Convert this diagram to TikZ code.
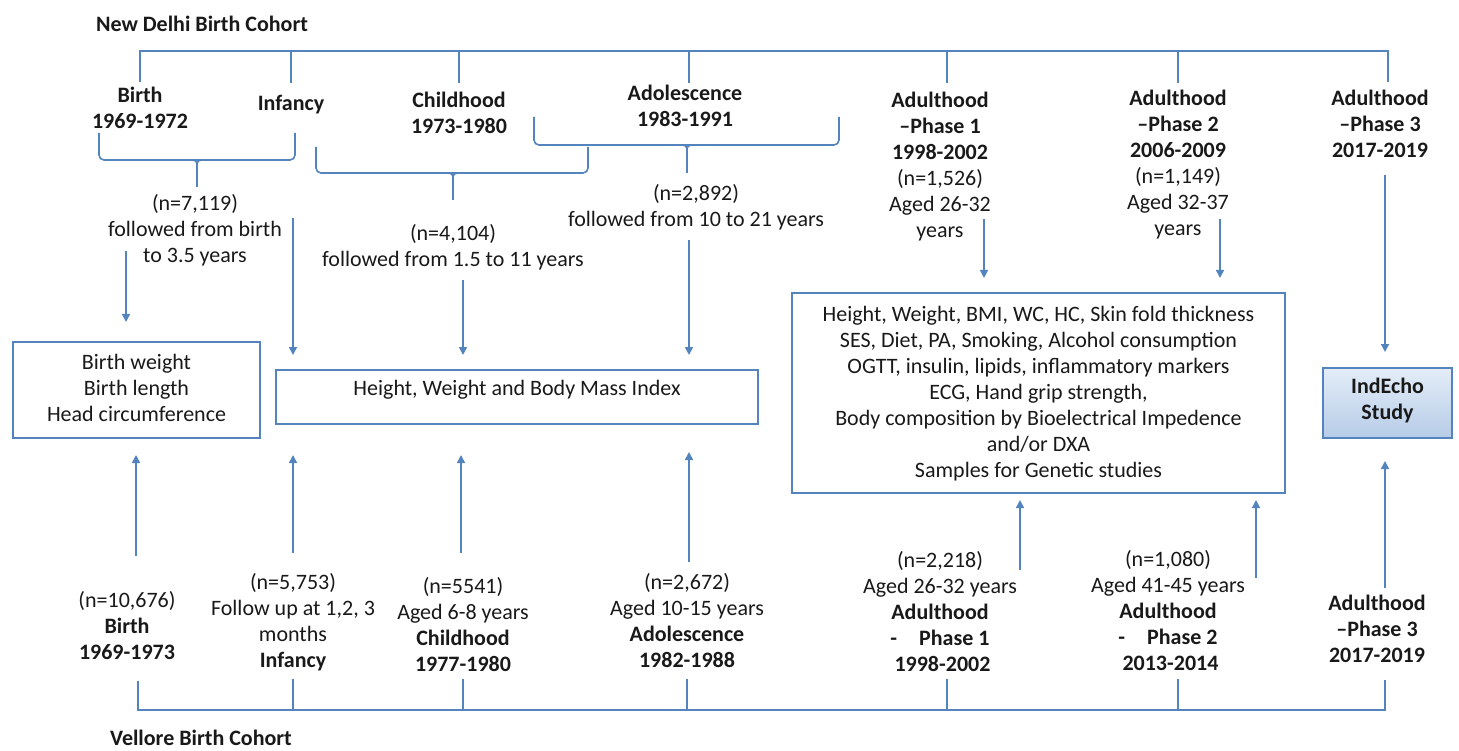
\documentclass[tikz,border=0pt]{standalone}
\usepackage{fontspec}
\setmainfont{Carlito}
\usetikzlibrary{arrows.meta}
\definecolor{lc}{RGB}{84,132,190}
\definecolor{tc}{RGB}{25,25,25}
\definecolor{fillA}{RGB}{228,237,248}
\definecolor{fillB}{RGB}{182,204,231}
\begin{document}
\begin{tikzpicture}[x=1pt,y=-1pt,
  ln/.style={draw=lc,line width=1.6pt},
  arr/.style={draw=lc,line width=1.6pt,-{Triangle[length=8pt,width=8pt]}},
  txt/.style={align=center,inner sep=0pt,text=tc,font=\fontsize{22}{26}\selectfont},
  btxt/.style={txt,font=\bfseries\fontsize{22}{26}\selectfont},
  bx/.style={draw=lc,line width=1.6pt,inner sep=0pt},
  brace/.style={draw=lc,line width=1.6pt,rounded corners=5pt}]
\useasboundingbox (0,0) rectangle (1459,751);

% titles
\node[btxt] (ndtitle) at (202,24) {New Delhi Birth Cohort};
\node[btxt] (vtitle) at (201,738) {Vellore Birth Cohort};

% top tree
\coordinate (tl) at (140,51);
\coordinate (tr) at (1388,51);
\draw[ln] (140,82) -- (tl) -- (tr) -- (1388,82);
\foreach \x in {291,459,689,947,1178} \draw[ln] (\x,51) -- (\x,83);

% top labels
\node[btxt] (t1) at (140,108) {Birth\\1969-1972};
\node[btxt] (t2) at (291,105) {Infancy};
\node[btxt] (t3) at (459,113) {Childhood\\1973-1980};
\node[btxt] (t4) at (685,106) {Adolescence\\1983-1991};
\node[txt] (t5) at (940,167) {\textbf{Adulthood}\\\textbf{–Phase 1}\\\textbf{1998-2002}\\(n=1,526)\\Aged 26-32\\years};
\node[txt] (t6) at (1178,165) {\textbf{Adulthood}\\\textbf{–Phase 2}\\\textbf{2006-2009}\\(n=1,149)\\Aged 32-37\\years};
\node[btxt] (t7) at (1380,124) {Adulthood\\–Phase 3\\2017-2019};

% braces
\draw[brace] (99,133) -- (99,160) -- (295,160) -- (295,133);
\draw[ln] (187,160) .. controls (197,160) .. (197,168) -- (197,187);
\draw[ln] (207,160) .. controls (197,160) .. (197,168);
\draw[brace] (316,147) -- (316,173) -- (588,173) -- (588,147);
\draw[ln] (443,173) .. controls (453,173) .. (453,181) -- (453,200);
\draw[ln] (463,173) .. controls (453,173) .. (453,181);
\draw[brace] (534,117) -- (534,145) -- (839,145) -- (839,117);
\draw[ln] (677,145) .. controls (687,145) .. (687,153) -- (687,173);
\draw[ln] (697,145) .. controls (687,145) .. (687,153);

% follow-up texts
\node[txt] (f1) at (195,230) {(n=7,119)\\followed from birth\\to 3.5 years};
\node[txt] (f2) at (453,247) {(n=4,104)\\followed from 1.5 to 11 years};
\node[txt] (f3) at (696,207) {(n=2,892)\\followed from 10 to 21 years};

% boxes
\node[bx,minimum width=247pt,minimum height=96pt] (box1) at (136.5,390) {};
\node[txt] (box1t) at (136.5,388) {Birth weight\\Birth length\\Head circumference};
\node[bx,minimum width=482pt,minimum height=54pt] (box2) at (517,397) {};
\node[txt] (box2t) at (517,390) {Height, Weight and Body Mass Index};
\node[bx,minimum width=493pt,minimum height=200pt] (box3) at (1038.5,393) {};
\node[txt] (box3t) at (1038.5,394) {Height, Weight, BMI, WC, HC, Skin fold thickness\\SES, Diet, PA, Smoking, Alcohol consumption\\OGTT, insulin, lipids, inflammatory markers\\ECG, Hand grip strength,\\Body composition by Bioelectrical Impedence\\and/or DXA\\Samples for Genetic studies};
\node[bx,minimum width=129pt,minimum height=70pt,top color=fillA,bottom color=fillB] (box4) at (1387.5,403) {};
\node[btxt] (box4t) at (1387.5,401) {IndEcho\\Study};

% down arrows
\coordinate (d1s) at (126,251); \coordinate (d1e) at (126,322);
\coordinate (d2s) at (293,218); \coordinate (d2e) at (293,355);
\coordinate (d3s) at (463,280); \coordinate (d3e) at (463,355);
\coordinate (d4s) at (689,240); \coordinate (d4e) at (689,355);
\coordinate (d5s) at (984,219); \coordinate (d5e) at (984,278);
\coordinate (d6s) at (1220,219); \coordinate (d6e) at (1220,278);
\coordinate (d7s) at (1385,175); \coordinate (d7e) at (1385,352);
\foreach \i in {1,...,7} \draw[arr] (d\i s) -- (d\i e);

% up arrows
\coordinate (u1s) at (136,556); \coordinate (u1e) at (136,455);
\coordinate (u2s) at (293,553); \coordinate (u2e) at (293,455);
\coordinate (u3s) at (461,553); \coordinate (u3e) at (461,455);
\coordinate (u4s) at (689,562); \coordinate (u4e) at (689,452);
\coordinate (u5s) at (1020,570); \coordinate (u5e) at (1020,500);
\coordinate (u6s) at (1256,578); \coordinate (u6e) at (1256,500);
\coordinate (u7s) at (1385,588); \coordinate (u7e) at (1385,461);
\foreach \i in {1,...,7} \draw[arr] (u\i s) -- (u\i e);

% bottom labels
\node[txt] (b1) at (127,626) {(n=10,676)\\\textbf{Birth}\\\textbf{1969-1973}};
\node[txt] (b2) at (293,622) {(n=5,753)\\Follow up at 1,2, 3\\months\\\textbf{Infancy}};
\node[txt] (b3) at (463,625) {(n=5541)\\Aged 6-8 years\\\textbf{Childhood}\\\textbf{1977-1980}};
\node[txt] (b4) at (687,621) {(n=2,672)\\Aged 10-15 years\\\textbf{Adolescence}\\\textbf{1982-1988}};
\node[txt] (b5) at (940,612) {(n=2,218)\\Aged 26-32 years\\\textbf{Adulthood}\\\textbf{-\quad Phase 1}\\\textbf{\ 1998-2002}};
\node[txt] (b6) at (1168,611) {(n=1,080)\\Aged 41-45 years\\\textbf{Adulthood}\\\textbf{-\quad Phase 2}\\\textbf{\ 2013-2014}};
\node[btxt] (b7) at (1377,629) {Adulthood\\–Phase 3\\2017-2019};

% bottom tree
\coordinate (bl) at (138,710);
\coordinate (br) at (1385,710);
\draw[ln] (138,681) -- (bl) -- (br) -- (1385,680);
\foreach \x in {293,463,687,947,1178} \draw[ln] (\x,679) -- (\x,710);
\end{tikzpicture}
\end{document}
